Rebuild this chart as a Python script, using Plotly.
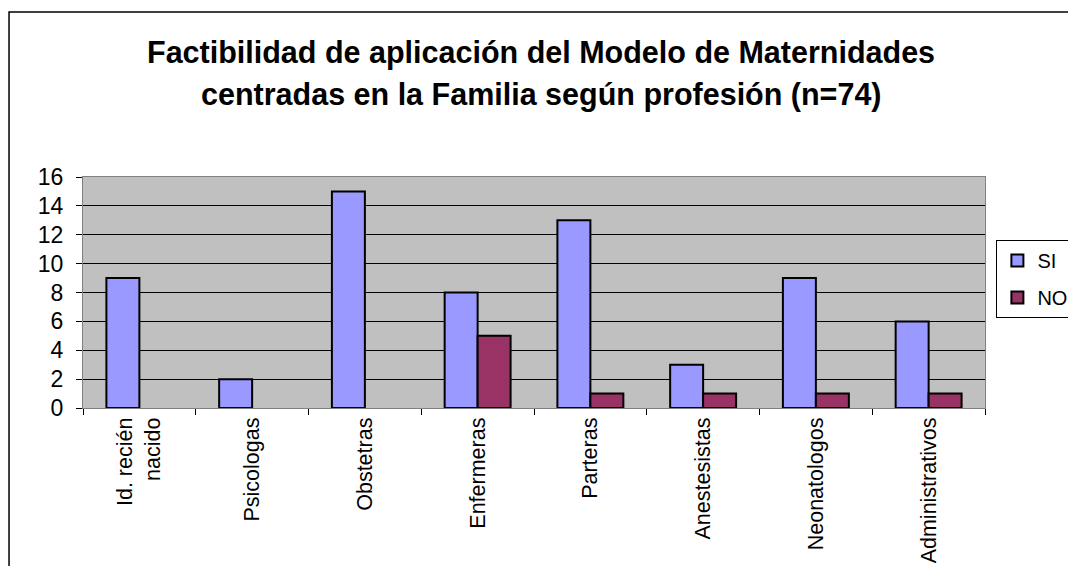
import plotly.graph_objects as go

CATEGORIES = ["Id. recién<br>nacido", "Psicologas", "Obstetras", "Enfermeras",
              "Parteras", "Anestesistas", "Neonatologos", "Administrativos"]
SI_VALUES = [9, 2, 15, 8, 13, 3, 9, 6]
NO_VALUES = [None, None, None, 5, 1, 1, 1, 1]
TITLE_LINES = ["Factibilidad de aplicación del Modelo de Maternidades",
               "centradas en la Familia según profesión (n=74)"]

FONT = "Liberation Sans, Arial, sans-serif"

fig = go.Figure()
fig.add_trace(go.Bar(x=CATEGORIES, y=SI_VALUES, name="SI", legendgroup="si",
                     marker={"color": "#9999FF", "line": {"color": "black", "width": 2}}))
fig.add_trace(go.Bar(x=CATEGORIES, y=NO_VALUES, name="NO", legendgroup="no",
                     marker={"color": "#993366", "line": {"color": "black", "width": 2}}))

# title as two annotations so the line spacing matches the original
annotations = [
    {"text": f"<b>{line}</b>", "xref": "paper", "yref": "paper", "x": 0.508, "y": y,
     "xanchor": "center", "yanchor": "middle", "showarrow": False,
     "font": {"size": 30.5, "family": FONT}}
    for line, y in zip(TITLE_LINES, [1.541, 1.355])
]

# page has an 8px body margin, so the figure is 8px smaller than the window
fig.update_layout(
    width=1068, height=558,
    margin={"l": 75, "r": 91, "t": 169, "b": 158, "autoexpand": False},
    paper_bgcolor="white", plot_bgcolor="#C0C0C0",
    font={"family": FONT, "size": 21, "color": "black"},
    barmode="group", bargap=0.415, bargroupgap=0,
    annotations=annotations,
    legend={"x": 1.098, "y": 0.727, "xanchor": "right", "yanchor": "top",
            "bordercolor": "black", "borderwidth": 1, "bgcolor": "white",
            "font": {"size": 20}, "itemwidth": 30, "tracegroupgap": 8},
    shapes=[{"type": "rect", "xref": "paper", "yref": "paper",
             "x0": -0.082, "x1": 1.2, "y0": -1.0, "y1": 1.714,
             "line": {"color": "black", "width": 1.5}, "layer": "below"}],
)
fig.update_yaxes(range=[0, 16], dtick=2, showgrid=True, gridcolor="black", gridwidth=1,
                 showline=True, linecolor="#808080", mirror=True, ticks="outside",
                 ticklen=6, tickcolor="black", zeroline=False, automargin=False,
                 tickfont={"size": 23}, ticklabelstandoff=8)
fig.update_xaxes(tickangle=-90, showline=True, linecolor="#808080", mirror=True,
                 ticks="outside", ticklen=6, tickcolor="black", tickson="boundaries",
                 tickfont={"size": 21.5}, automargin=False)

fig.write_html("out.html")
